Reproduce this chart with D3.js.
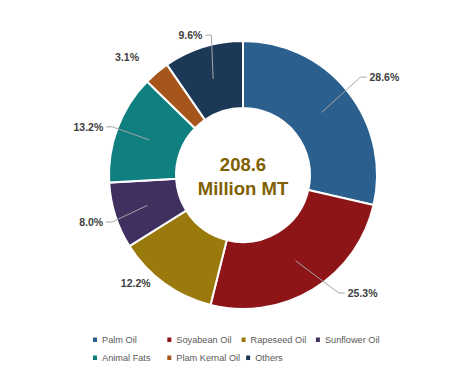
<!DOCTYPE html>
<html>
<head>
<meta charset="utf-8">
<script src="https://cdn.jsdelivr.net/npm/d3@7"></script>
<style>
  html, body { margin: 0; padding: 0; background: #ffffff; }
  svg { display: block; }
</style>
</head>
<body>
<svg id="chart" width="475" height="387"></svg>
<script>
// ---- data ----
const categories = ["Palm Oil", "Soyabean Oil", "Rapeseed Oil", "Sunflower Oil", "Animal Fats", "Plam Kernal Oil", "Others"];
const shares = [28.6, 25.3, 12.2, 8.0, 13.2, 3.1, 9.6];
const totalLabel = ["208.6", "Million MT"];
const colors = ["#2b5f8e", "#8d1518", "#9a7a0c", "#3f3060", "#0f7f80", "#a7561b", "#1c3857"];

// ---- layout (label placement, as Excel placed them) ----
const labelAngleDeg = [55.3, 134.6, 224.9, 252.8, 287.3, 315.5, 339.4];
const labelRadius = [172, 168, 152, 159, 162, 165.5, 149.5];
const showLeader = [true, true, false, true, true, false, true];

const svg = d3.select("#chart");
const cx = 243, cy = 175, outerR = 134, innerR = 67;

const pie = d3.pie().value(d => d).sort(null).startAngle(0).endAngle(2 * Math.PI);
const arcs = pie(shares);
const arc = d3.arc().innerRadius(innerR).outerRadius(outerR);

const g = svg.append("g").attr("transform", `translate(${cx},${cy})`);

g.selectAll("path.slice")
  .data(arcs)
  .enter().append("path")
  .attr("class", "slice")
  .attr("d", arc)
  .attr("fill", (d, i) => colors[i])
  .attr("stroke", "#ffffff")
  .attr("stroke-width", 2)
  .attr("stroke-linejoin", "miter");

// center text
const ct = g.append("text")
  .attr("text-anchor", "middle")
  .attr("font-family", "Liberation Sans, Arial, sans-serif")
  .attr("font-weight", "bold")
  .attr("font-size", 18.5)
  .attr("fill", "#7f6000");
ct.append("tspan").attr("x", 0).attr("y", -4).text(totalLabel[0]);
ct.append("tspan").attr("x", 0).attr("y", 20).text(totalLabel[1]);

// data labels
const fmt = d3.format(".1f");
arcs.forEach((d, i) => {
  const a = labelAngleDeg[i] * Math.PI / 180;
  const lx = labelRadius[i] * Math.sin(a);
  const ly = -labelRadius[i] * Math.cos(a);
  const t = g.append("text")
    .attr("x", lx).attr("y", ly)
    .attr("text-anchor", "middle")
    .attr("dominant-baseline", "central")
    .attr("font-family", "Liberation Sans, Arial, sans-serif")
    .attr("font-weight", "bold")
    .attr("font-size", 10.5)
    .attr("fill", "#404040")
    .text(fmt(d.data) + "%");
  if (showLeader[i]) {
    const w = t.node().getComputedTextLength();
    const c = arc.centroid(d);
    const right = lx > 0;
    const edge = right ? lx - w / 2 : lx + w / 2;
    const endX = right ? edge - 3 : edge + 3;
    const elbowX = right ? edge - 9 : edge + 9;
    g.insert("polyline", "text")
      .attr("points", [[c[0], c[1]], [elbowX, ly], [endX, ly]].map(p => p.join(",")).join(" "))
      .attr("fill", "none")
      .attr("stroke", "#a6a6a6")
      .attr("stroke-width", 1);
  }
});

// legend
const legend = svg.append("g");
const colStart = 95, colStep = 74.3, rowY = [340, 358], perRow = 4;
let prevEnd = 0;
categories.forEach((name, i) => {
  const row = Math.floor(i / perRow), col = i % perRow;
  if (col === 0) prevEnd = 0;
  const mx = Math.max(colStart + col * colStep, prevEnd + 8);
  const y = rowY[row];
  legend.append("rect")
    .attr("x", mx - 2).attr("y", y - 2.5)
    .attr("width", 4).attr("height", 4.5)
    .attr("fill", colors[i]);
  const t = legend.append("text")
    .attr("x", mx + 7).attr("y", y)
    .attr("dominant-baseline", "central")
    .attr("font-family", "Liberation Sans, Arial, sans-serif")
    .attr("font-size", 9.2)
    .attr("fill", "#595959")
    .text(name);
  prevEnd = mx + 7 + t.node().getComputedTextLength();
});
</script>
</body>
</html>
